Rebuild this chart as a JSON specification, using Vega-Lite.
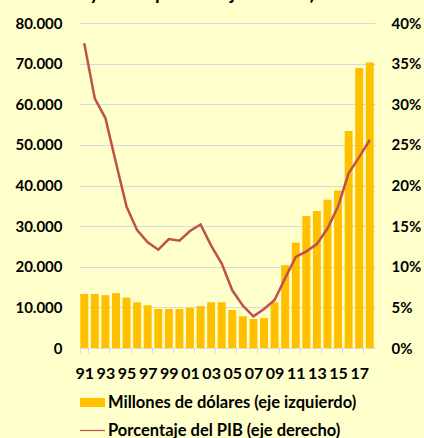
{
  "$schema": "https://vega.github.io/schema/vega-lite/v6.json",
  "autosize": {"type": "none"},
  "width": 296,
  "height": 325,
  "padding": {"left": 79, "top": 23, "right": 49, "bottom": 90},
  "background": "#FFFFCC",
  "config": {
    "view": {"stroke": null},
    "font": "Lato",
    "axis": {"labelFont": "Lato", "labelFontWeight": "bold", "labelFontSize": 15, "labelColor": "#000000"}
  },
  "title": {
    "text": "(Millones de dólares y como porcentaje del PIB)",
    "anchor": "end",
    "frame": "group",
    "dx": -60,
    "offset": -3,
    "baseline": "alphabetic",
    "font": "Lato",
    "fontSize": 19,
    "fontWeight": "bold",
    "color": "#000000"
  },
  "data": {
    "values": [
      {"anio": "91", "usd": 13300, "pct": 37.5},
      {"anio": "92", "usd": 13300, "pct": 30.7},
      {"anio": "93", "usd": 13000, "pct": 28.3},
      {"anio": "94", "usd": 13500, "pct": 22.8},
      {"anio": "95", "usd": 12400, "pct": 17.4},
      {"anio": "96", "usd": 11250, "pct": 14.5},
      {"anio": "97", "usd": 10500, "pct": 13.0},
      {"anio": "98", "usd": 9600, "pct": 12.1},
      {"anio": "99", "usd": 9600, "pct": 13.4},
      {"anio": "00", "usd": 9600, "pct": 13.2},
      {"anio": "01", "usd": 9900, "pct": 14.4},
      {"anio": "02", "usd": 10300, "pct": 15.2},
      {"anio": "03", "usd": 11250, "pct": 12.6},
      {"anio": "04", "usd": 11250, "pct": 10.4},
      {"anio": "05", "usd": 9350, "pct": 7.1},
      {"anio": "06", "usd": 7800, "pct": 5.2},
      {"anio": "07", "usd": 7150, "pct": 3.9},
      {"anio": "08", "usd": 7400, "pct": 4.8},
      {"anio": "09", "usd": 11250, "pct": 5.9},
      {"anio": "10", "usd": 20400, "pct": 8.6},
      {"anio": "11", "usd": 26000, "pct": 11.2},
      {"anio": "12", "usd": 32500, "pct": 11.9},
      {"anio": "13", "usd": 33700, "pct": 12.8},
      {"anio": "14", "usd": 36500, "pct": 14.7},
      {"anio": "15", "usd": 38800, "pct": 17.4},
      {"anio": "16", "usd": 53400, "pct": 21.5},
      {"anio": "17", "usd": 68900, "pct": 23.5},
      {"anio": "18", "usd": 70300, "pct": 25.6}
    ]
  },
  "encoding": {
    "x": {
      "field": "anio", "type": "ordinal", "sort": null,
      "scale": {"paddingInner": 0.25, "paddingOuter": 0.12},
      "axis": {
        "title": null,
        "labelAngle": 0,
        "values": ["91","93","95","97","99","01","03","05","07","09","11","13","15","17"],
        "tickBand": "extent",
        "tickSize": 5,
        "tickColor": "#D9D9D9",
        "domainColor": "#D9D9D9",
        "labelPadding": 12,
        "labelFontSize": 16,
        "labelOverlap": false,
        "grid": false
      }
    }
  },
  "resolve": {"scale": {"y": "independent"}},
  "layer": [
    {
      "mark": {"type": "bar"},
      "encoding": {
        "y": {
          "field": "usd", "type": "quantitative",
          "scale": {"domain": [0, 80000]},
          "axis": {
            "title": null,
            "values": [0, 10000, 20000, 30000, 40000, 50000, 60000, 70000, 80000],
            "labelExpr": "replace(format(datum.value, ',.0f'), ',', '.')",
            "domain": false,
            "ticks": false,
            "labelPadding": 17,
            "grid": true,
            "gridColor": "#D9D9D9",
            "gridWidth": 1
          }
        },
        "color": {
          "datum": "Millones de dólares (eje izquierdo)",
          "type": "nominal",
          "scale": {
            "domain": ["Millones de dólares (eje izquierdo)", "Porcentaje del PIB (eje derecho)"],
            "range": ["#FFC000", "#C0504D"]
          },
          "legend": {
            "title": null,
            "orient": "none",
            "legendX": 1,
            "legendY": 367,
            "direction": "vertical",
            "labelFont": "Lato",
            "labelFontWeight": "bold",
            "labelFontSize": 16.5,
            "labelColor": "#000000",
            "labelLimit": 400,
            "labelOffset": 3,
            "rowPadding": 7,
            "symbolSize": 625,
            "encode": {
              "symbols": {
                "update": {
                  "shape": {"signal": "datum.value === 'Porcentaje del PIB (eje derecho)' ? 'M-1,-0.05H1V0.05H-1Z' : 'M-1,-0.36H1V0.36H-1Z'"},
                  "fill": {"scale": "color", "field": "value"},
                  "stroke": {"value": "transparent"},
                  "strokeWidth": {"value": 0},
                  "opacity": {"value": 1},
                  "fillOpacity": {"value": 1}
                }
              }
            }
          }
        }
      }
    },
    {
      "mark": {"type": "line", "strokeWidth": 2.5},
      "encoding": {
        "y": {
          "field": "pct", "type": "quantitative",
          "scale": {"domain": [0, 40]},
          "axis": {
            "title": null,
            "orient": "right",
            "values": [0, 5, 10, 15, 20, 25, 30, 35, 40],
            "labelExpr": "datum.value + '%'",
            "domain": false,
            "ticks": false,
            "grid": false,
            "labelPadding": 16
          }
        },
        "color": {"datum": "Porcentaje del PIB (eje derecho)", "type": "nominal"}
      }
    }
  ]
}
